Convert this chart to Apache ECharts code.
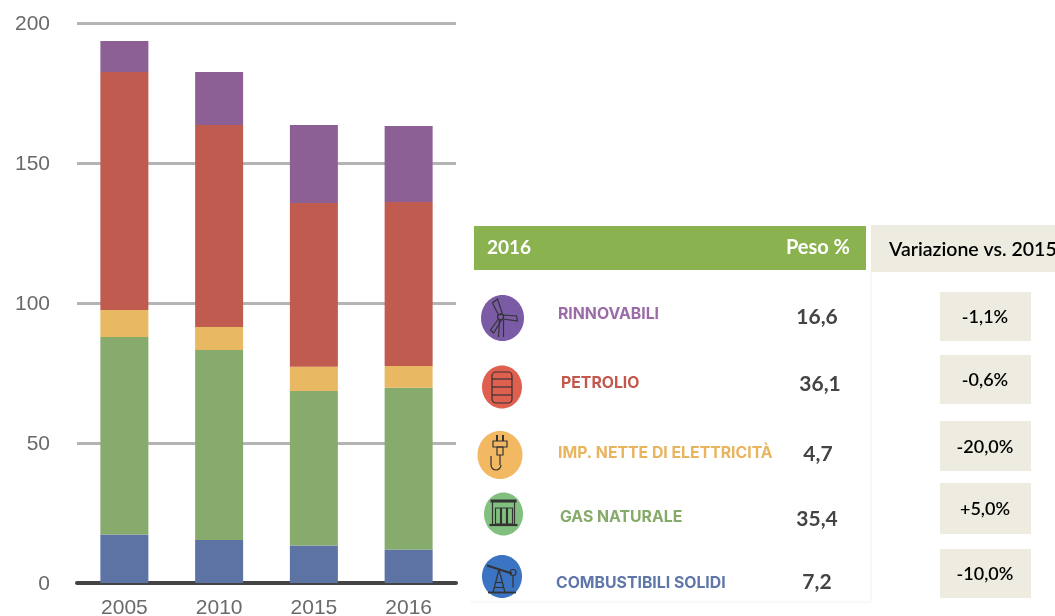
<!DOCTYPE html>
<html lang="it">
  <head>
    <meta charset="UTF-8" />
    <title>Consumi di energia per fonte</title>
    <style>
      html, body { margin: 0; padding: 0; background: #fff; overflow: hidden; }
      #main { width: 1055px; height: 616px; }
    </style>
  </head>
  <body>
    <div id="main"></div>
    <script src="https://cdn.jsdelivr.net/npm/echarts@6/dist/echarts.min.js"></script>
    <script>
      /* globals echarts */

      // chart data
      var years = ["2005", "2010", "2015", "2016"];
      var solidi = [17.3, 15.4, 13.4, 12.0];
      var gas = [70.6, 67.8, 55.2, 57.7];
      var elettricita = [9.6, 8.2, 8.6, 7.8];
      var petrolio = [85.0, 72.2, 58.5, 58.6];
      var rinnovabili = [11.1, 18.9, 27.9, 27.1];

      // table on the right
      var fonti = ["RINNOVABILI", "PETROLIO", "IMP. NETTE DI ELETTRICITÀ", "GAS NATURALE", "COMBUSTIBILI SOLIDI"];
      var pesi = ["16,6", "36,1", "4,7", "35,4", "7,2"];
      var variazioni = ["-1,1%", "-0,6%", "-20,0%", "+5,0%", "-10,0%"];

      var INK = "#333";
      var BOX = "#eeece1";

      function line(x1, y1, x2, y2, w) {
        return { type: "line", shape: { x1: x1, y1: y1, x2: x2, y2: y2 }, style: { stroke: INK, lineWidth: w || 1.2 }, z: 6 };
      }
      function outline(shapeType, shape) {
        return { type: shapeType, shape: shape, style: { stroke: INK, fill: "none", lineWidth: 1.2 }, z: 6 };
      }

      function turbina(cx, cy) {
        return [
          outline("circle", { cx: cx - 2, cy: cy - 1, r: 3 }),
          outline("polygon", { points: [[cx - 4, cy - 3], [cx - 10, cy - 15], [cx - 5, cy - 19], [cx, cy - 4]] }),
          outline("polygon", { points: [[cx + 1, cy - 3], [cx + 14, cy - 2], [cx + 15, cy + 3], [cx + 1, cy + 1]] }),
          outline("polygon", { points: [[cx - 4, cy + 1], [cx - 12, cy + 12], [cx - 9, cy + 15], [cx - 1, cy + 2]] }),
          line(cx - 3, cy + 2, cx - 4, cy + 19),
          line(cx + 1, cy + 2, cx + 1, cy + 19)
        ];
      }
      function barile(cx, cy) {
        return [
          outline("rect", { x: cx - 10, y: cy - 15, width: 20, height: 31, r: 4 }),
          line(cx - 10, cy - 8, cx + 10, cy - 8),
          line(cx - 10, cy, cx + 10, cy),
          line(cx - 10, cy + 8, cx + 10, cy + 8)
        ];
      }
      function spina(cx, cy) {
        return [
          line(cx - 3, cy - 20, cx - 3, cy - 14, 2),
          line(cx + 3, cy - 20, cx + 3, cy - 14, 2),
          outline("rect", { x: cx - 7, y: cy - 14, width: 14, height: 6 }),
          outline("rect", { x: cx - 3, y: cy - 8, width: 6, height: 8 }),
          line(cx, cy, cx, cy + 10),
          outline("arc", { cx: cx - 4, cy: cy + 10, r: 5, startAngle: 0, endAngle: Math.PI, clockwise: true }),
          line(cx - 9, cy + 10, cx - 9, cy + 1)
        ];
      }
      function centrale(cx, cy) {
        return [
          line(cx - 13, cy - 13, cx + 13, cy - 13, 3),
          line(cx - 11, cy - 12, cx - 11, cy + 10),
          line(cx + 11, cy - 12, cx + 11, cy + 10),
          outline("rect", { x: cx - 8, y: cy - 6, width: 5, height: 16 }),
          outline("rect", { x: cx - 2, y: cy - 6, width: 5, height: 16 }),
          outline("rect", { x: cx + 4, y: cy - 6, width: 5, height: 16 }),
          line(cx - 14, cy + 11, cx + 14, cy + 11, 2.2)
        ];
      }
      function pozzo(cx, cy) {
        return [
          line(cx - 15, cy - 11, cx + 10, cy - 3, 2.2),
          line(cx - 9, cy + 16, cx - 3, cy - 7),
          line(cx + 3, cy + 16, cx - 3, cy - 7),
          line(cx - 7, cy + 6, cx + 1, cy + 6),
          line(cx - 8, cy + 11, cx + 2, cy + 11),
          outline("circle", { cx: cx + 11, cy: cy - 4, r: 3 }),
          line(cx + 11, cy - 1, cx + 11, cy + 11),
          line(cx - 14, cy + 16, cx + 14, cy + 16, 1.8)
        ];
      }

      // layout of the table rows
      var rowIcons = [
        { x: 502.5, y: 318, rx: 21.5, ry: 23, fill: "#7b5ba6", draw: turbina },
        { x: 502, y: 387, rx: 20, ry: 21.5, fill: "#e0604f", draw: barile },
        { x: 500, y: 455, rx: 22.5, ry: 24, fill: "#f2b862", draw: spina },
        { x: 503.5, y: 514, rx: 19.5, ry: 21.5, fill: "#82c080", draw: centrale },
        { x: 502, y: 576.5, rx: 20, ry: 21.5, fill: "#3b74c2", draw: pozzo }
      ];
      var nameX = [558, 561, 558, 560, 556];
      var nameY = [314, 383, 453, 517, 583];
      var nameColors = ["#9a6ba6", "#c4574c", "#e8b45e", "#86aa69", "#5f76ab"];
      var pesoX = [817, 820, 818, 817, 817];
      var pesoY = [317, 384, 454, 519, 582];
      var boxTop = [292, 355, 421, 483, 549];
      var boxHeight = [49, 49, 50, 51, 49];

      function buildTable() {
        var items = [
          { type: "rect", shape: { x: 474, y: 226, width: 392, height: 44 }, style: { fill: "#8ab24f" } },
          { type: "text", style: { x: 487, y: 248, text: "2016", fill: "#fff", font: "bold 19px Lato", textVerticalAlign: "middle" } },
          { type: "text", style: { x: 850, y: 248, text: "Peso %", fill: "#fff", font: "bold 20px Lato", textAlign: "right", textVerticalAlign: "middle" } },
          { type: "rect", shape: { x: 871, y: 225, width: 184, height: 47 }, style: { fill: BOX } },
          { type: "text", style: { x: 889, y: 250, text: "Variazione vs. 2015", fill: "#000", font: "600 19.5px Lato", textVerticalAlign: "middle" } },
          { type: "line", shape: { x1: 871, y1: 272, x2: 871, y2: 602 }, style: { stroke: "#f2f2f2", lineWidth: 1 } },
          { type: "line", shape: { x1: 470, y1: 602, x2: 871, y2: 602 }, style: { stroke: "#f2f2f2", lineWidth: 1 } }
        ];
        fonti.forEach(function (name, i) {
          var icon = rowIcons[i];
          items.push({ type: "ellipse", shape: { cx: icon.x, cy: icon.y, rx: icon.rx, ry: icon.ry }, style: { fill: icon.fill }, z: 5 });
          items = items.concat(icon.draw(icon.x, icon.y));
          items.push({ type: "text", style: { x: nameX[i], y: nameY[i], text: name, fill: nameColors[i], font: "bold 15.8px Inter", textVerticalAlign: "middle" } });
          items.push({ type: "text", style: { x: pesoX[i], y: pesoY[i], text: pesi[i], fill: "#444", font: "bold 21px Lato", textAlign: "center", textVerticalAlign: "middle" } });
          items.push({ type: "rect", shape: { x: 940, y: boxTop[i], width: 91, height: boxHeight[i] }, style: { fill: BOX } });
          items.push({ type: "text", style: { x: 985, y: boxTop[i] + boxHeight[i] / 2 + 1, text: variazioni[i], fill: "#000", font: "600 18px Lato", textAlign: "center", textVerticalAlign: "middle" }, z: 2 });
        });
        return items;
      }

      function barSeries(name, values, color) {
        return { name: name, type: "bar", stack: "fonti", barWidth: 48, data: values, itemStyle: { color: color } };
      }

      var chart = echarts.init(document.getElementById("main"));
      chart.setOption({
        animation: false,
        // labels run past the bottom edge in the reference, so no auto shrink
        grid: { left: 77, right: 599, top: 23, bottom: 33, outerBoundsMode: "none" },
        xAxis: {
          type: "category",
          data: years,
          axisTick: { show: false },
          axisLine: { lineStyle: { color: "#444", width: 4 } },
          axisLabel: { color: "#6a6a6a", fontFamily: "Liberation Sans", fontSize: 21, margin: 15 }
        },
        yAxis: {
          type: "value",
          min: 0,
          max: 200,
          interval: 50,
          axisLine: { show: false },
          axisTick: { show: false },
          axisLabel: { color: "#6a6a6a", fontFamily: "Liberation Sans", fontSize: 21, margin: 27, verticalAlign: "top", lineHeight: 3 },
          splitLine: { lineStyle: { color: "#b4b4b4", width: 3 } }
        },
        series: [
          barSeries("Combustibili solidi", solidi, "#5c73a4"),
          barSeries("Gas naturale", gas, "#87ab6d"),
          barSeries("Imp. nette di elettricità", elettricita, "#e8b863"),
          barSeries("Petrolio", petrolio, "#c05b50"),
          barSeries("Rinnovabili", rinnovabili, "#8d6095")
        ],
        graphic: { elements: buildTable() }
      });
    </script>
  </body>
</html>
